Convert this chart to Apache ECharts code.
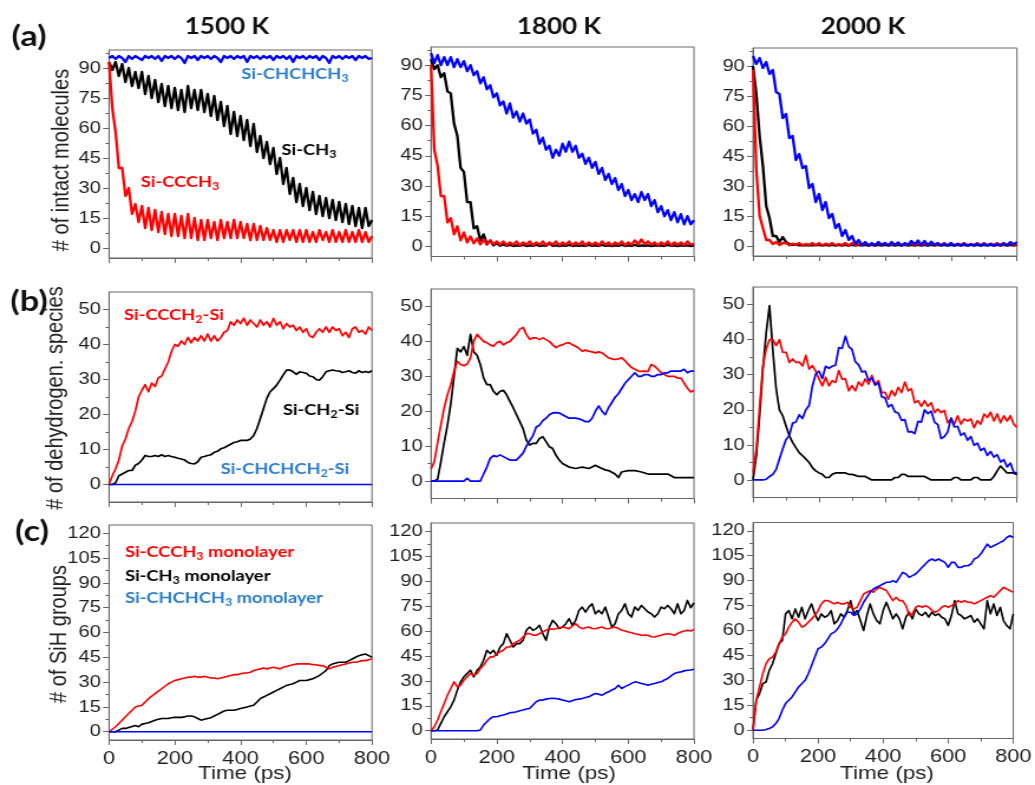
<!DOCTYPE html>
<html><head><meta charset="utf-8">
<script src="https://cdn.jsdelivr.net/npm/echarts@6.0.0/dist/echarts.min.js"></script>
<style>
html,body{margin:0;padding:0;background:#fff;overflow:hidden;width:1035px;height:785px;}
#chart{width:877px;height:785px;transform:scaleX(1.18016);transform-origin:0 0;}
</style></head><body><div id="chart"></div>
<script>
// ---------------- DATA ----------------
const T = [0,10,20,30,40,50,60,70,80,90,
100,110,120,130,140,150,160,170,180,190,
200,210,220,230,240,250,260,270,280,290,
300,310,320,330,340,350,360,370,380,390,
400,410,420,430,440,450,460,470,480,490,
500,510,520,530,540,550,560,570,580,590,
600,610,620,630,640,650,660,670,680,690,
700,710,720,730,740,750,760,770,780,790,
800];
const ZERO_T = [0, 800];
const ZERO_V = [0, 0];

const X_TICKS = [0, 200, 400, 600, 800];
const Y_TICKS_A = [0, 15, 30, 45, 60, 75, 90];
const Y_MINOR_A = [7.5, 22.5, 37.5, 52.5, 67.5, 82.5, 97.5];
const Y_TICKS_B = [0, 10, 20, 30, 40, 50];
const Y_MINOR_B = [5, 15, 25, 35, 45];
const Y_TICKS_C = [0, 15, 30, 45, 60, 75, 90, 105, 120];
const Y_MINOR_C = [7.5, 22.5, 37.5, 52.5, 67.5, 82.5, 97.5, 112.5];

const TEMPS = ['1500 K', '1800 K', '2000 K'];

// (a) 1500 K
const A1_BLUE = [95,96,94.5,96,95,93,96,94.5,96,95,
94,96,95,96,94.5,96,93.5,96,95,96,
94.5,96,95,92.5,96,95,96,94,96,95,
96,94.5,96,95,93,96,95,96,94.5,96,
95,96,93,96,95,96,94.5,96,95,96,
94,96,95,96,94.5,96,93,96,95,96,
94.5,96,95,96,94,96,95,92.5,96,95,
96,94.5,96,95,96,94,96,95,96,94.5,
95];
const A1_BLACK = [93,89,93,86,92,83,90,81,88,80,
88,77,86,75,84,73,82,71,81,70,
80,69,79,68,81,70,79,69,79,68,
77,66,76,64,73,61,71,57,68,56,
66,54,64,51,62,48,56,45,53,42,
50,37,45,32,40,27,35,23,32,21,
30,19,28,17,26,16,25,15,24,14,
23,13,22,12,21,11,20,10,20,11,
14];
const A1_RED = [93,70,58,40,40,26,30,17,22,13,
21,10,20,9,19,8,18,7,17,6,
17,6,16,5,17,5,15,4,14,4,
14,5,13,4,14,5,13,5,14,5,
13,5,12,4,12,4,11,4,10,4,
9,3,9,3,9,4,9,3,9,3,
9,3,8,3,9,4,8,3,9,3,
8,3,9,3,8,3,9,3,8,3,
6];
// (a) 1800 K
const A2_BLUE = [96,91,95,90,94,90,94,89,93,89,
92,87,90,85,87,81,84,78,80,74,
76,70,72,66,71,64,67,62,66,61,
63,56,58,51,54,48,50,44,48,45,
51,47,52,47,50,44,46,41,44,39,
42,36,39,33,36,31,34,28,31,25,
28,23,26,22,27,23,26,20,23,17,
20,15,18,13,17,12,16,11,15,11,
13];
const A2_BLACK = [93,88,90,84,86,77,76,61,55,39,
37,22,22,9,10,3,6,1,3,0.5,
1.5,0.3,1,0.3,0.8,0.2,0.5,0.3,0.8,0.2,
0.5,0.3,0.8,0.2,0.5,0.3,1.5,0.3,0.5,0.2,
0.5,0.3,0.8,0.2,0.5,0.3,0.5,0.2,0.8,0.3,
0.5,0.2,0.8,0.3,0.5,0.2,0.5,0.3,0.8,0.2,
0.5,0.3,0.8,0.2,0.5,0.3,0.5,0.2,0.5,0.3,
0.5,0.2,0.8,0.3,0.5,0.2,0.5,0.3,0.5,0.2,
0.5];
const A2_RED = [90,48,40,25,25,12,14,6,10,3,
7,2,5,1.5,4,1,3.5,1,3,1,
2.5,0.8,2.5,0.5,2,0.8,2.5,0.5,2,0.8,
2.5,0.5,2,0.8,2.5,0.5,2,0.8,2.5,0.5,
2,0.8,2.5,0.5,2,0.8,2.5,0.5,2,0.8,
2,0.5,2.5,0.8,2,0.5,2,0.8,2.5,0.5,
2,0.8,3,1,3.5,1,2.5,0.8,2,0.5,
2,0.8,2.5,0.5,2,0.8,2,0.5,2.5,0.8,
1.5];
// (a) 2000 K
const A3_BLUE = [95,91,94,89,92,86,88,77,76,64,
66,54,55,43,46,39,40,29,31,22,
26,18,22,14,16,9,11,5,8,3,
5,1,3,0.5,2,0.2,1.5,0.3,2,0.5,
1.5,0.3,2,0.5,1.8,0.2,1.5,0.5,2.5,0.8,
2.8,0.5,2.5,0.3,2.2,0.5,1.5,0.3,1.2,0.2,
1.5,0.2,1,0.3,1.2,0.2,0.8,0.3,1,0.2,
1.2,0.3,1,0.2,0.8,0.5,1.5,0.3,2,0.8,
2];
const A3_BLACK = [90,76,55,40,20,14,5,5,2,4.5,
2,1,0.5,0.8,0.3,0.5,0.3,0.5,0.3,0.5,
0.5,0.2,0.5,0.2,0.5,0.2,0.5,0.2,0.5,0.2,
0.5,0.2,0.5,0.2,0.5,0.2,0.5,0.2,0.5,0.2,
0.5,0.2,0.5,0.2,0.5,0.2,0.5,0.2,0.5,0.2,
0.5,0.2,0.5,0.2,0.5,0.2,0.5,0.2,0.5,0.2,
0.5,0.2,0.5,0.2,0.5,0.2,0.5,0.2,0.5,0.2,
0.5,0.2,0.5,0.2,0.5,0.2,0.5,0.2,0.5,0.2,
0.5];
const A3_RED = [88,38,15,9,3,3,1,2,0.5,1.5,
1.5,0.3,1.2,0.5,1.5,0.3,1,0.5,1.5,0.3,
1.5,0.3,1.2,0.5,1.5,0.3,1,0.5,1.5,0.3,
1.5,0.3,1.2,0.5,1.5,0.3,1,0.5,1.5,0.3,
1.5,0.3,1.2,0.5,1.5,0.3,1,0.5,1.5,0.3,
1.5,0.3,1.2,0.5,1.5,0.3,1,0.5,1.5,0.3,
1.5,0.3,1.2,0.5,1.5,0.3,1,0.5,1.5,0.3,
1.5,0.3,1.2,0.5,1.5,0.3,1,0.5,1.5,0.3,
1];

// (b) 1500 K
const B1_RED = [0,2.5,4.5,7,11,13,16,18,21,25,
27,28.5,26.5,29,28,30.5,31,33,35,38,
40,39.5,41,40,42,40.5,42,41,42.5,41,
43,41,42.5,41,42,43.5,44,46.5,45.5,47,
46,47.5,45.5,47,46,45,47,45.5,46.5,45,
47.5,45.5,46.5,44.5,46,45,45.5,44,45,43.5,
44.5,42.5,42,43.5,44.5,43.5,45,43.5,45,44,
44.5,42.5,43.5,42,44.5,45,43.5,44,43,45,
44];
const B1_BLACK = [0,0,0.5,2.5,3,3.5,4,4,5.5,6,
7,8.3,8,8,8.3,8,8.5,8,8.3,8,
7.8,7.5,7.3,7,6.3,6,5.9,6.5,7.8,8,
8.3,8.5,9.2,9.5,10.2,10.5,11,11.5,12,12.2,
12.6,12.6,12.6,13,14,16,18.8,21.7,24.6,26.5,
27.4,28.4,29.8,31.3,32.7,32.7,32.2,31.5,32.2,32,
31.8,31,30.8,30,29.8,30.8,32.2,32.5,32.7,32.5,
32.4,32,32.2,32.5,32,31.8,32.5,32,32.3,32,
32.5];
// (b) 1800 K
const B2_RED = [3.5,5.5,11,16,21,24.7,27.6,31.4,34.3,33.4,
33,33.5,35.3,40,42,41,40,39.6,39,38.6,
39.6,40,39,39.6,40,41,42,43.5,44,42,
40.6,41,41,40.5,41,40.5,40,39,38.2,38.8,
39,39.5,39.6,39,38.6,38,37.2,37.5,37.2,37,
36.7,37,36.7,36,35.3,35,34.8,35,35.3,34.5,
33.4,32.5,32,31.5,31.4,31.5,31.4,33.4,32.9,32,
31,30.5,30,30,30,29.5,29.5,28,26.6,25.5,
26];
const B2_BLACK = [0,0,0.5,5.5,11,16,22,30,38,37,
38.5,36,42,37,36,33.4,29.5,27.6,27.6,25.7,
24.7,25.7,26,24.7,22.8,21,19,17,15,11.7,
10.3,10.8,10.8,12.2,12.7,11.3,9.8,9.3,7.4,6,
5,4.5,4,3.8,3.6,3.8,4,3.8,3.6,4,
4.5,4,3.6,3.2,3,2.5,2,1,2.6,2.8,
3,3,3,2.8,2.6,2.3,2,2,2,2,
2,2,2,1.5,1,1,1,1,1,1,
1];
const B2_BLUE = [0,0,0,0,0,0,0,0,0,0,
0,0.8,0,0,0,0,2,4,6.5,7.3,
7,7.5,7,6.5,6,6,6,7,8,10,
11.5,13,15.5,16,17.3,18,19,19.5,19.6,19.5,
19,18.5,18,18,18,17.8,17.5,17,17,18,
20,21.5,20,19,21,22.5,24,25,26.5,28,
29,30,31,30,30,30.5,30.5,30,30,30.5,
30.5,31,31,31.5,31.5,31.5,31.5,32,31,31.5,
31.5];
// (b) 2000 K
const B3_RED = [2,8.8,21,32.6,37.3,40,40,38.3,40,36.4,
36.4,33.5,34.5,33.5,33.6,32.5,35.5,31.6,32.6,31,
28.8,26.8,29.3,26.8,28.3,27.8,31.2,28.7,28.8,25.4,
26.9,25.4,27.9,26.8,28.8,27.3,29.8,27.3,28.3,24.9,
25,23,25.5,24,26.4,24.9,27.9,25.4,26,22,
22.6,21,22.6,21,22,19.2,20.2,19.2,19.8,16.3,
17.4,15.9,18.3,15.9,17.4,16.8,17.4,14.9,16.9,15.9,
18.8,17.8,19.3,16.8,18.8,16.3,18.3,16.8,18.3,15.9,
15];
const B3_BLACK = [0,6.9,18.3,31.6,42,49.7,37,26,20,18.3,
15.4,12.6,10.7,9.2,7.8,6.9,6,5,3.5,2.6,
2,1.6,0.7,0.7,1.6,2,2,2,2,1.6,
1.6,1.3,1,1,1,0.5,0,0,0,0,
0,0,0,0.7,0.7,1.6,1.6,1,1,1,
1,1,1,0.5,0,0,0,0,0,0,
0,0.7,0.7,0,0,0,0,0.7,0.7,0,
0,0,0,1,2.6,4,3,2,2,2,
1.5];
const B3_BLUE = [0,0,0,0,0.2,1,1.6,3,6,8.8,
11.5,12.7,16.2,16.5,18.6,17.5,20,21.2,26.8,30.2,
31,28.9,32.4,31.8,32.4,32.7,37.7,37.5,41,38,
37.2,33.7,32.8,30.8,31,28.4,29.1,27,27.7,23.7,
23.4,20.8,21.5,19.4,19.1,17,17.2,13.7,13.8,13.2,
16.7,16.5,20,18.9,19.6,16.5,15.8,11.8,12.4,13.7,
17.7,15.1,15.3,12.7,13.4,11.3,12.4,9.9,10.5,8.4,
9.1,7,8.1,6.5,7.2,5.1,5.8,3.7,4.8,2.2,
2];

// (c) 1500 K
const C1_RED = [0,1.5,3,5,7,9,11,13,15,15.5,
16,18,20,21.5,23,24.5,26,27.5,29,30,
31,31.5,32,32.5,33,33,33.5,33,33,33.5,
33,32.5,32.5,32,32.5,33,33.5,34,34.5,34.5,
35,35.5,35.5,36,37,37.5,38,38.5,38,38.5,
39,38.5,38,39,39.5,40,40.5,41,41,41,
41,41,40.5,40.5,40,40,39,38,39,39.5,
40,40.5,41,41.5,42,42,42.5,43,43,43.5,
44];
const C1_BLACK = [0,0,0,1,2,2,2.6,3.2,3.8,3,
4.6,5,5.4,6.2,7,7.5,8,8,8,8.5,
8.7,8.7,8.7,9,9.5,9.5,9,8,7,7.5,
8,8.5,9.5,10.5,11.5,12.5,13,13,13,13.5,
14,14.5,15,15.5,16,18,20,21,22,23,
24,25,26,27,28,28.5,29,30,31,31,
31,31.5,32,33,34,35.5,37,40,41,41.5,
42,42,42,43,44,45,46,46.5,47,46,
45];
// (c) 1800 K
const C2_BLACK = [0,0,0.4,4.4,8.4,11.4,14.4,18.4,24.4,29.4,
32.4,34.4,36.4,32.4,36.4,38.4,42.4,48.4,46.4,48.4,
45.4,50.4,52.4,58.4,54.4,50.4,52.4,52.4,54.4,60.4,
62.4,60.4,61.4,63.4,58.4,54.4,62.4,66.4,64.4,61.4,
62.4,64.4,67.4,63.4,66.4,72.4,74.4,71.4,74.4,76.4,
70.4,72.4,70.4,74.4,68.4,62.4,64.4,70.4,72.4,76.4,
70.4,68.4,74.4,72.4,75.4,73.4,71.4,70.4,68.4,70.4,
74.4,73.4,75.4,73.4,70.4,76.4,70.4,72.4,78.4,74,
77];
const C2_RED = [0,2.4,6.4,11.4,16.4,21.4,25.4,29.4,26.4,27.4,
30.4,32.4,34.4,33.4,34.4,37.4,39.4,42.4,44.4,44.4,
46.4,47.4,48.4,50.4,50.4,52.4,53.4,54.4,56.4,58.4,
58.4,57.5,57.4,58.5,59.4,60.5,61.4,61,61.4,62,
62.4,62,61.4,63,64.4,62.5,61.4,62,62.4,61.5,
61.4,62,62.4,61.5,61.4,62,62.4,61.5,60.4,60,
59.4,59,58.4,58,57.4,57.5,57.4,56.5,56.4,57,
57.4,58,58.4,58,57.4,58.5,59.4,60,60.4,60,
61];
const C2_BLUE = [0,0,0,0,0,0,0,0,0,0,
0,0,0,0,0,0.4,3.4,5.4,7.4,8.4,
8.4,9,9.4,10,10.8,11,11.4,12,12.4,13,
13.4,15.4,17.4,18.4,18.4,19,19.4,19.5,19.4,19,
18.4,18,17.4,18,18.8,19,19.4,20,20.4,21.5,
22.4,22,21.4,22.5,23.4,24.5,25.4,27.4,25.4,26.5,
27.4,28.5,29.4,29,28.4,28,27.4,28,28.4,29,
29.4,30.5,31.4,33,34.4,35,35.4,36,36.4,36.5,
37];
// (c) 2000 K
const C3_BLACK = [0,18,22,28,29,36,40,46,52,54,
70,72,67,73,68,74,67,72,76,70,
66,70,68,69,72,64,66,70,68,72,
78,70,72,66,60,69,76,70,66,64,
72,77,72,67,70,67,61,68,71,67,
73,70,69,71,68,71,69,70,68,67,
63,69,78,70,69,67,68,69,65,67,
64,61,78,70,76,69,74,66,63,61,
70];
const C3_RED = [0,18,26,34,40,43,44,47,52,56,
58,62,65,67,65,62,63,65,67,69,
72,76,78,78,77,76,77,76,76,77,
74,73,74,78,82,83,84,83,85,86,
85,84,81,78,80,78,78,75,69,70,
74,75,74,75,74,72,71,72,74,75,
74,75,76,78,77,78,77,77,76,77,
78,79,80,81,80,82,84,86,85,84,
83];
const C3_BLUE = [0,0,0,0,0.4,1,2,4,7,12,
16,18,20,23,26,28,30,34,39,44,
49,50,52,55,58,59,61,64,68,71,
71,69,70,73,77,80,83,85,86,87,
88,89,89,90,89,92,95,94,92,93,
94,96,98,100,102,103,102,103,102,101,
98,101,101,98,98,99,99,100,103,104,
106,109,112,110,111,112,113,114,116,117,
116];

// ---------------- LAYOUT / STYLE ----------------
const SX = 1.18016;
const px = x => x / SX;
const RED = '#ff0000', BLK = '#000000', BLU = '#0000ff';
const LBL_BLUE = '#2a7dd0';
const AX = '#666666';
const COLS = [[109, 372], [431, 694], [753, 1017]];
const BOX = [
  [[50, 258], [47, 256.5], [48, 256]],
  [[292, 502], [289, 498.5], [287, 497.5]],
  [[525, 740], [523, 739], [522.5, 738.5]]
];
const YR = [[-5, 99], [-5, 55], [-5, 125]];
const YMAJ = [Y_TICKS_A, Y_TICKS_B, Y_TICKS_C];
const YMIN = [Y_MINOR_A, Y_MINOR_B, Y_MINOR_C];
const LW = [2.3, 1.7, 1.6];

const PANELS = [
  [[T, A1_BLACK, BLK], [T, A1_RED, RED], [T, A1_BLUE, BLU]],
  [[T, A2_BLACK, BLK], [T, A2_RED, RED], [T, A2_BLUE, BLU]],
  [[T, A3_BLACK, BLK], [T, A3_RED, RED], [T, A3_BLUE, BLU]],
  [[T, B1_BLACK, BLK], [T, B1_RED, RED], [ZERO_T, ZERO_V, BLU]],
  [[T, B2_BLACK, BLK], [T, B2_RED, RED], [T, B2_BLUE, BLU]],
  [[T, B3_BLACK, BLK], [T, B3_RED, RED], [T, B3_BLUE, BLU]],
  [[T, C1_BLACK, BLK], [T, C1_RED, RED], [ZERO_T, ZERO_V, BLU]],
  [[T, C2_BLACK, BLK], [T, C2_RED, RED], [T, C2_BLUE, BLU]],
  [[T, C3_BLACK, BLK], [T, C3_RED, RED], [T, C3_BLUE, BLU]]
];

const REG = 'Liberation Sans, Arial, sans-serif';
const BOLD = 'Lato, Open Sans, sans-serif';

const grids = [], xAxes = [], yAxes = [], series = [];
PANELS.forEach((lines, i) => {
  const r = Math.floor(i / 3), c = i % 3;
  const [l, rr] = COLS[c];
  const [tp, bt] = BOX[r][c];
  grids.push({left: px(l), top: tp, width: px(rr - l), height: bt - tp,
    show: true, borderColor: AX, borderWidth: 1, backgroundColor: 'transparent'});
  xAxes.push({type: 'value', gridIndex: i, position: 'bottom', min: 0, max: 800, interval: 200,
    axisLine: {show: true, onZero: false, lineStyle: {color: AX, width: 1}},
    axisTick: {show: true, inside: false, length: 5, lineStyle: {color: AX}},
    minorTick: {show: true, splitNumber: 2, length: 3, lineStyle: {color: AX}},
    splitLine: {show: false}, minorSplitLine: {show: false},
    axisLabel: {show: r === 2, customValues: X_TICKS, showMinLabel: true, showMaxLabel: true,
      fontSize: 18.5, fontFamily: REG, color: '#1e1e1e', margin: 9}});
  yAxes.push({type: 'value', gridIndex: i, position: 'left', min: YR[r][0], max: YR[r][1],
    axisLine: {show: true, onZero: false, lineStyle: {color: AX, width: 1}},
    axisTick: {show: true, inside: false, length: 5, customValues: YMAJ[r], lineStyle: {color: AX}},
    splitLine: {show: false},
    axisLabel: {show: true, customValues: YMAJ[r], fontSize: 17, fontFamily: REG, color: '#1e1e1e', margin: 7}});
  yAxes.push({type: 'value', gridIndex: i, position: 'left', min: YR[r][0], max: YR[r][1],
    axisLine: {show: false},
    axisTick: {show: true, inside: false, length: 3, customValues: YMIN[r], lineStyle: {color: AX}},
    splitLine: {show: false}, axisLabel: {show: false}});
  lines.forEach(([tt, vv, col]) => {
    series.push({type: 'line', xAxisIndex: i, yAxisIndex: 2 * i, showSymbol: false, symbol: 'none',
      silent: true, animation: false, clip: true,
      lineStyle: {color: col, width: LW[r], join: 'round'}, itemStyle: {color: col},
      data: tt.map((t, k) => [t, vv[k]])});
  });
});

function txt(x, y, text, opt) {
  const st = Object.assign({text: text, fill: '#111', align: 'center', verticalAlign: 'middle',
    textAlign: 'center', textVerticalAlign: 'middle'}, opt.style || {});
  return {type: 'text', x: px(x), y: y, rotation: opt.rotation || 0, silent: true, z: 100, style: st};
}
function richLabel(x, y, text, color, align) {
  return txt(x, y, text, {style: {
    fill: color, align: align, textAlign: align,
    rich: {
      n: {fontFamily: BOLD, fontWeight: 'bold', fontSize: 15.5, fill: color, color: color, lineHeight: 20, verticalAlign: 'middle'},
      s: {fontFamily: BOLD, fontWeight: 'bold', fontSize: 10.5, fill: color, color: color, lineHeight: 9, verticalAlign: 'bottom'}
    }}});
}

const graphics = [];
// panel letters
[['(a)', 29, 37], ['(b)', 29, 302], ['(c)', 32, 532]].forEach(([s, x, y]) =>
  graphics.push(txt(x, y, s, {style: {font: 'bold 29px ' + BOLD, fill: '#111'}})));
// temperature titles
[[227, 27], [559, 27], [863, 27]].forEach(([x, y], k) =>
  graphics.push(txt(x, y, TEMPS[k], {style: {font: 'bold 22px ' + BOLD, fill: '#111'}})));
// y-axis titles
[['# of intact molecules', 62, 160], ['# of dehydrogen. species', 56, 398], ['# of SiH groups', 59, 634]]
  .forEach(([s, x, y]) => graphics.push(txt(x, y, s, {rotation: Math.PI / 2,
    style: {font: '20px ' + REG, fill: '#222'}})));
// x-axis titles
[245, 569, 887].forEach(x => graphics.push(txt(x, 774, 'Time (ps)', {style: {font: '19px ' + REG, fill: '#222'}})));
// series annotations
graphics.push(richLabel(295, 74, '{n|Si-CHCHCH}{s|3}', LBL_BLUE, 'center'));
graphics.push(richLabel(309, 150, '{n|Si-CH}{s|3}', BLK, 'center'));
graphics.push(richLabel(180, 182, '{n|Si-CCCH}{s|3}', RED, 'center'));
graphics.push(richLabel(174, 315, '{n|Si-CCCH}{s|2}{n|-Si}', RED, 'center'));
graphics.push(richLabel(321, 410, '{n|Si-CH}{s|2}{n|-Si}', BLK, 'center'));
graphics.push(richLabel(285, 469, '{n|Si-CHCHCH}{s|2}{n|-Si}', LBL_BLUE, 'center'));
graphics.push(richLabel(125, 552, '{n|Si-CCCH}{s|3}{n| monolayer}', RED, 'left'));
graphics.push(richLabel(125, 576, '{n|Si-CH}{s|3}{n| monolayer}', BLK, 'left'));
graphics.push(richLabel(125, 598, '{n|Si-CHCHCH}{s|3}{n| monolayer}', LBL_BLUE, 'left'));

const chart = echarts.init(document.getElementById('chart'), null, {renderer: 'canvas'});
chart.setOption({
  animation: false,
  backgroundColor: '#ffffff',
  grid: grids, xAxis: xAxes, yAxis: yAxes, series: series,
  graphic: {elements: graphics}
});
</script></body></html>
